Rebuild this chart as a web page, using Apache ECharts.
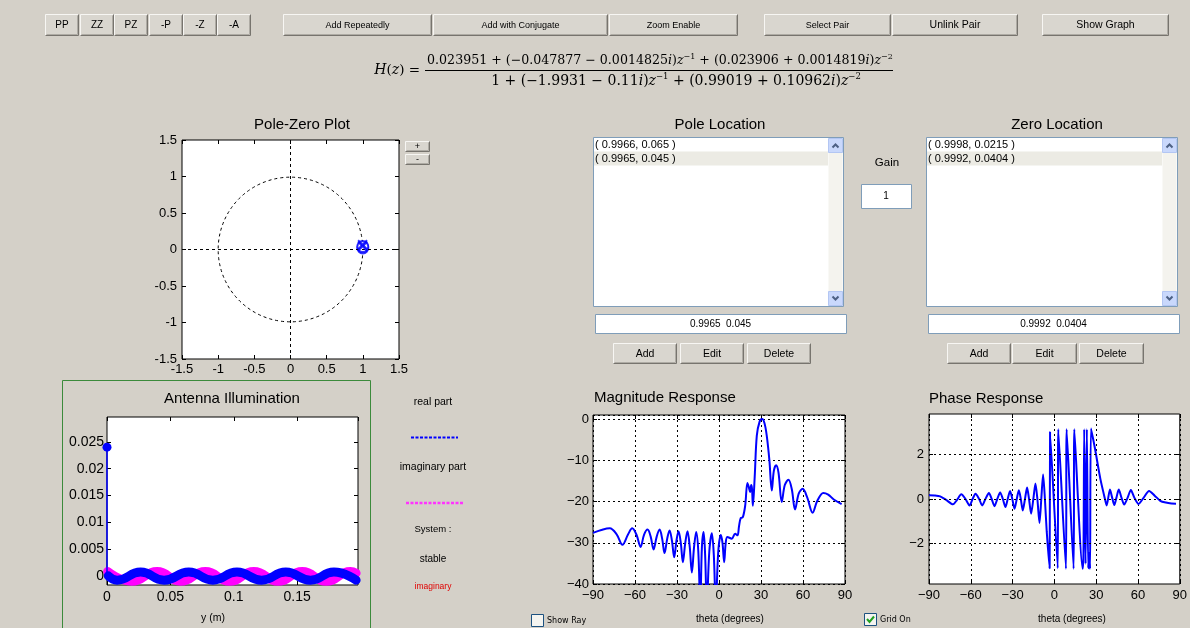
<!DOCTYPE html>
<html><head><meta charset="utf-8">
<script src="https://cdn.jsdelivr.net/npm/echarts@6.0.0/dist/echarts.min.js"></script>
<style>html,body{margin:0;padding:0;background:#d4d0c8;}#c{width:1190px;height:628px;}</style>
</head><body><div id="c"></div>
<script>
// ---------------- DATA ----------------
const topButtons = ['PP', 'ZZ', 'PZ', '-P', '-Z', '-A'];
const actionButtons = ['Add Repeatedly', 'Add with Conjugate', 'Zoom Enable', 'Select Pair', 'Unlink Pair', 'Show Graph'];
const editButtons = ['Add', 'Edit', 'Delete'];
const numeratorText = '0.023951 + (−0.047877 − 0.0014825{i|i}){i|z}{s|−1} + (0.023906 + 0.0014819{i|i}){i|z}{s|−2}';
const denominatorText = '1 + (−1.9931 − 0.11{j|i}){j|z}{t|−1} + (0.99019 + 0.10962{j|i}){j|z}{t|−2}';
const poles = [[0.9966, 0.065], [0.9965, 0.045]];
const zeros = [[0.9998, 0.0215], [0.9992, 0.0404]];
const selectedPole = [0.9965, 0.045];
const selectedZero = [0.9992, 0.0404];
const gain = 1;
const unitCircle = [[0, 0]];
const antennaYTicks = [0, 0.005, 0.01, 0.015, 0.02, 0.025];
const stemX = [0, 0];
const stemY = [0, 0.024];
const realX = [0.001, 0.008, 0.0265, 0.045, 0.0645, 0.0835, 0.1025, 0.122, 0.141, 0.1605, 0.179, 0.1965];
const realY = [0.0001, -0.0007, 0.0008, -0.0007, 0.0008, -0.0007, 0.0008, -0.0007, 0.0008, -0.0007, 0.0008, -0.0007];
const imagX = [0.0005, 0.0195, 0.0395, 0.058, 0.0776, 0.0967, 0.1158, 0.135, 0.154, 0.173, 0.192, 0.1965];
const imagY = [0.0009, -0.0009, 0.0009, -0.0009, 0.0009, -0.0009, 0.0009, -0.0009, 0.0009, -0.0009, 0.0009, 0.0006];
const magTheta = [-90, -84, -78, -73, -69, -65, -62, -59, -56, -53.5, -51, -48.8, -46.7, -44.5, -42.4, -40.6, -38.9, -37, -35.3, -33.6, -32, -30.4, -28.9, -27.3, -25.8, -24.1, -22.5, -20.9, -19.4, -17.8, -16.3, -14.8, -13.4, -12.2, -11, -9.9, -8.7, -6.9, -5.1, -3.7, -2.3, -0.5, 1.3, 2.5, 3.7, 4.8, 6, 9.1, 11.5, 13.2, 14.3, 15.5, 17, 18.7, 20.3, 21.3, 22.2, 23, 23.6, 24.2, 25.5, 27, 29, 30.8, 32.5, 34.1, 36, 37.7, 39.2, 40.8, 42.5, 44.8, 47, 49.6, 52, 54.3, 57, 59.8, 63, 66.9, 70, 74.5, 78, 82, 87.6];
const magDb = [-27.6, -26.9, -26.5, -28, -30.5, -28, -26.5, -28, -31, -28, -26.8, -28.5, -31.6, -28.5, -26.8, -29, -32.5, -29, -27, -29.5, -33.5, -29.5, -27.2, -30, -34.7, -30, -27.2, -31, -37.2, -31, -27.4, -32, -45, -31, -27.4, -33, -45, -32, -27.7, -33, -45, -32, -28.1, -30, -34.7, -30, -28.6, -29, -27.8, -28.2, -26, -24, -23.8, -21, -15.5, -16.5, -17.7, -16, -17, -21, -14, -4, -0.6, 0, -1, -4, -10, -17.3, -12.5, -11.2, -13, -20.1, -16, -14.7, -17, -21.9, -18, -16.9, -19, -22.7, -20, -17.9, -18.3, -19.5, -20.6];
const phaseTheta = [-90, -86, -82, -77.5, -72.8, -70, -66.8, -63.8, -60.9, -58.7, -56.6, -54, -51.8, -49.5, -47, -45, -43, -41, -38.9, -37, -35.1, -33.5, -31.8, -30.2, -28.6, -27, -25.5, -24.1, -22.7, -21.1, -19.6, -18.2, -16.7, -15.1, -13.6, -12.2, -10.7, -9.4, -8.1, -6.8, -5.5, -3.4, -3.1, 2.4, 2.8, 8.3, 8.8, 13.8, 14.3, 20.3, 20.9, 21.4, 22.4, 23.3, 24.3, 25.0, 25.6, 26.3, 29, 33, 36.3, 37.5, 39.9, 41.5, 43, 44.5, 46.2, 48.2, 50.1, 52.5, 54.9, 57.5, 60.4, 64, 68, 72, 76, 80, 84, 87.3];
const phaseRad = [0.17, 0.16, 0.12, -0.05, -0.24, -0.05, 0.21, 0, -0.29, 0, 0.24, 0, -0.29, 0, 0.27, 0, -0.32, 0, 0.29, 0, -0.36, 0, 0.36, 0, -0.44, 0, 0.39, 0, -0.51, 0, 0.51, 0, -0.66, 0, 0.69, 0, -1.07, 0, 1.1, 0, -1.45, -3.1, 3.0, -3.1, 3.12, -3.12, 3.12, -3.12, 3.12, -3.12, -2.4, 3.12, -2.9, 3.12, -3.1, -2.4, -3.12, 3.15, 2.3, 0.9, 0, -0.29, 0.42, 0.05, -0.27, 0.05, 0.42, 0.05, -0.25, 0.05, 0.4, 0.05, -0.22, 0.05, 0.36, 0.15, -0.08, -0.16, -0.2, -0.21];
const phaseYTicks = [-2, 0, 2];

// ---------------- HELPERS ----------------
const SANS = 'Liberation Sans';
const BG = '#d4d0c8';
const zip = (a, b) => a.map((v, i) => [v, b[i]]);
const minus = v => String(v).replace('-', '−');

function txt(x, y, text, o) {
  o = o || {};
  return { type: 'text', x: x, y: y, silent: true, z: 10,
    style: Object.assign({ text: text, fill: '#000', fontFamily: SANS, fontSize: 11,
      align: 'center', verticalAlign: 'middle', textAlign: 'center', textVerticalAlign: 'middle' }, o) };
}
function rect(x, y, w, h, fill, stroke, o) {
  return Object.assign({ type: 'rect', silent: true, z: 5, shape: { x: x, y: y, width: w, height: h },
    style: { fill: fill, stroke: stroke || null, lineWidth: 1 } }, o || {});
}
function pline(points, stroke, lw, o) {
  return Object.assign({ type: 'polyline', silent: true, z: 6, shape: { points: points },
    style: { fill: null, stroke: stroke, lineWidth: lw || 1 } }, o || {});
}
function button(x, y, w, h, label, fs) {
  return { type: 'group', x: x, y: y, children: [
    rect(0, 0, w, h, '#d9d6cf'),
    pline([[0.5, h - 0.5], [0.5, 0.5], [w - 0.5, 0.5]], '#f7f6f3'),
    pline([[0.5, h - 0.5], [w - 0.5, h - 0.5], [w - 0.5, 0.5]], '#77746e'),
    pline([[1.5, h - 1.5], [w - 1.5, h - 1.5], [w - 1.5, 1.5]], '#aeaba4'),
    txt(w / 2, h / 2 + 0.5, label, { fontSize: fs || 10 })
  ] };
}
function listbox(x, y, w, h, items, selIdx) {
  const ch = [rect(x + 0.5, y + 0.5, w, h, '#ffffff', '#7f9db9')];
  const sbx = x + w - 15;
  ch.push(rect(x + 1, y + 14 + 0.5, sbx - x - 1, 14, '#ecebe4'));
  items.forEach((it, i) => ch.push(txt(x + 2, y + 7.5 + i * 14.5, it, { align: 'left', textAlign: 'left', fontSize: 11 })));
  ch.push(rect(sbx + 0.5, y + 1.5, 14, h - 2, '#f4f3ee'));
  ch.push(rect(sbx + 0.5, y + 1.5, 14, 14, '#c9d8fc', '#b3c6f3'));
  ch.push(rect(sbx + 0.5, y + h - 14.5, 14, 14, '#c9d8fc', '#b3c6f3'));
  ch.push(pline([[sbx + 4.5, y + 10.5], [sbx + 7.5, y + 7.5], [sbx + 10.5, y + 10.5]], '#4d6185', 2));
  ch.push(pline([[sbx + 4.5, y + h - 9.5], [sbx + 7.5, y + h - 6.5], [sbx + 10.5, y + h - 9.5]], '#4d6185', 2));
  return ch;
}
function textbox(x, y, w, h, label) {
  return [rect(x + 0.5, y + 0.5, w, h, '#ffffff', '#7f9db9'), txt(x + w / 2, y + h / 2 + 0.5, label, { fontSize: 10 })];
}
function checkbox(x, y, label, checked) {
  const ch = [rect(x + 0.5, y + 0.5, 12, 12, '#f4f4f0', '#1c5180'), txt(x + 16, y + 7, label, { align: 'left', textAlign: 'left', fontSize: 8, fontFamily: 'DejaVu Sans' })];
  if (checked) ch.push(pline([[x + 3, y + 6], [x + 5.5, y + 9], [x + 10, y + 3.5]], '#21a121', 2));
  return ch;
}

// ---------------- GRAPHIC UI ----------------
const g = [];
const topX = [[45, 34], [80, 34], [114, 34], [149, 34], [183, 34], [217, 34]];
topButtons.forEach((b, i) => g.push(button(topX[i][0], 14, topX[i][1], 22, b, 10)));
const actX = [[283, 149, 9], [433, 175, 9], [609, 129, 9], [764, 127, 9], [892, 126, 10.5], [1042, 127, 10.5]];
actionButtons.forEach((b, i) => g.push(button(actX[i][0], 14, actX[i][1], 22, b, actX[i][2])));

// formula
const serif = 'DejaVu Serif';
const FN = 12.6, FD = 14;
const rich = {
  i: { fontStyle: 'italic', fontFamily: serif, fontSize: FN }, s: { fontFamily: serif, fontSize: 8, verticalAlign: 'top', lineHeight: 10 },
  j: { fontStyle: 'italic', fontFamily: serif, fontSize: FD }, t: { fontFamily: serif, fontSize: 8.5, verticalAlign: 'top', lineHeight: 10 }
};
g.push(txt(660, 61, numeratorText, { fontFamily: serif, fontSize: FN, rich: rich, lineHeight: 17 }));
g.push(txt(676, 81, denominatorText, { fontFamily: serif, fontSize: FD, rich: rich, lineHeight: 18 }));
g.push(pline([[425, 70.5], [893, 70.5]], '#000', 1));
g.push(txt(420, 70, '{j|H}({j|z}) =', { align: 'right', textAlign: 'right', fontFamily: serif, fontSize: 13.5, rich: rich }));

// titles
const titleFs = 15;
g.push(txt(302, 125, 'Pole-Zero Plot', { fontSize: titleFs }));
g.push(txt(720, 125, 'Pole Location', { fontSize: titleFs }));
g.push(txt(1057, 125, 'Zero Location', { fontSize: titleFs }));
g.push(txt(232, 399, 'Antenna Illumination', { fontSize: titleFs }));
g.push(txt(594, 398, 'Magnitude Response', { fontSize: titleFs, align: 'left', textAlign: 'left' }));
g.push(txt(929, 399, 'Phase Response', { fontSize: titleFs, align: 'left', textAlign: 'left' }));

// zoom +/- buttons
g.push(button(405, 141, 25, 11, '+', 9));
g.push(button(405, 154, 25, 11, '-', 9));

// pole list
g.push(...listbox(593, 137, 250, 169, poles.map(p => '( ' + p[0] + ', ' + p[1] + ' )'), 1));
g.push(...textbox(595, 314, 251, 19, selectedPole[0] + '  ' + selectedPole[1]));
[[613, 64], [680, 64], [747, 64]].forEach((b, i) => g.push(button(b[0], 343, b[1], 21, editButtons[i], 10.5)));
// gain
g.push(txt(887, 163, 'Gain', { fontSize: 11.5 }));
g.push(...textbox(861, 184, 50, 24, String(gain)));
// zero list
g.push(...listbox(926, 137, 251, 169, zeros.map(p => '( ' + p[0] + ', ' + p[1] + ' )'), 1));
g.push(...textbox(928, 314, 251, 19, selectedZero[0] + '  ' + selectedZero[1]));
[[947, 64], [1012, 65], [1079, 65]].forEach((b, i) => g.push(button(b[0], 343, b[1], 21, editButtons[i], 10.5)));

// antenna panel frame
g.push(rect(62.5, 380.5, 308, 260, null, '#3b8a3b', { z: 1 }));
g.push(txt(213, 618, 'y (m)', { fontSize: 10.5 }));
// legend-like labels
g.push(txt(433, 402, 'real part', { fontSize: 10.5 }));
g.push(pline([[411, 437.5], [458, 437.5]], '#0000ff', 2, { style: { fill: null, stroke: '#0000ff', lineWidth: 2, lineDash: [3, 1.5] } }));
g.push(txt(433, 467, 'imaginary part', { fontSize: 10.5 }));
g.push(pline([[406, 503], [463, 503]], '#ff33ff', 2, { style: { fill: null, stroke: '#ff33ff', lineWidth: 2.5, lineDash: [3, 1.5] } }));
g.push(txt(433, 529, 'System :', { fontSize: 9.5 }));
g.push(txt(433, 559, 'stable', { fontSize: 10 }));
g.push(txt(433, 587, 'imaginary', { fontSize: 8.5, fill: '#e00000' }));

// magnitude/phase captions & checkboxes
g.push(txt(730, 619, 'theta (degrees)', { fontSize: 10 }));
g.push(txt(1072, 619, 'theta (degrees)', { fontSize: 10 }));
g.push(...checkbox(531, 614, 'Show Ray', false));
g.push(...checkbox(864, 613, 'Grid On', true));

// ---------------- AXES ----------------
const lab = { color: '#000', fontFamily: SANS, fontSize: 13 };
const tick = { show: true, inside: true, length: 4, lineStyle: { color: '#000', width: 1 } };
const noLine = { show: false, onZero: false };
const gridDash = { show: true, lineStyle: { color: '#000', width: 1, type: [2, 3] } };

const xBase = [
  { min: -1.5, max: 1.5, interval: 0.5, axisLabel: Object.assign({}, lab, { margin: 4 }) },
  { min: 0, max: 0.198, interval: 0.05, axisLabel: Object.assign({}, lab, { fontSize: 14, margin: 5, showMaxLabel: false, formatter: v => String(+v.toFixed(3)) }) },
  { min: -90, max: 90, interval: 30, axisLabel: Object.assign({}, lab, { fontSize: 13, margin: 5, formatter: minus }), splitLine: gridDash },
  { min: -90, max: 90, interval: 30, axisLabel: Object.assign({}, lab, { fontSize: 13, margin: 5, formatter: minus }), splitLine: gridDash }
];
const yBase = [
  { min: -1.5, max: 1.5, interval: 0.5, axisLabel: Object.assign({}, lab, { margin: 5 }) },
  { min: -0.0016, max: 0.0296, axisTick: Object.assign({}, tick, { customValues: antennaYTicks }),
    axisLabel: Object.assign({}, lab, { fontSize: 14, margin: 3, customValues: antennaYTicks, formatter: v => String(+(+v).toFixed(3)) }) },
  { min: -40, max: 1, interval: 10, axisLabel: Object.assign({}, lab, { fontSize: 13, margin: 4, showMaxLabel: false, formatter: minus }), splitLine: gridDash },
  { min: -3.8, max: 3.8, axisTick: Object.assign({}, tick, { customValues: phaseYTicks }),
    axisLabel: Object.assign({}, lab, { fontSize: 13, margin: 5, customValues: phaseYTicks, formatter: minus }) }
];
const xAxis = [], yAxis = [];
xBase.forEach((b, i) => xAxis.push(Object.assign({ type: 'value', gridIndex: i, position: 'bottom', axisLine: noLine, axisTick: tick, splitLine: { show: false } }, b)));
yBase.forEach((b, i) => yAxis.push(Object.assign({ type: 'value', gridIndex: i, position: 'left', axisLine: noLine, axisTick: tick, splitLine: { show: false } }, b)));
xBase.forEach((b, i) => xAxis.push(Object.assign({ type: 'value', gridIndex: i, position: 'top', axisLine: noLine, axisTick: tick, splitLine: { show: false } }, b, { axisLabel: { show: false }, splitLine: { show: false } })));
yBase.forEach((b, i) => yAxis.push(Object.assign({ type: 'value', gridIndex: i, position: 'right', axisLine: noLine, axisTick: tick, splitLine: { show: false } }, b, { axisLabel: { show: false }, splitLine: { show: false } })));

const gridStyle = { show: true, backgroundColor: '#ffffff', borderColor: '#000', borderWidth: 1, containLabel: false };
const grid = [
  Object.assign({ left: 182, top: 140, width: 217, height: 219 }, gridStyle),
  Object.assign({ left: 107, top: 417, width: 251, height: 168 }, gridStyle),
  Object.assign({ left: 593, top: 415, width: 252, height: 169 }, gridStyle),
  Object.assign({ left: 929, top: 414, width: 252, height: 170 }, gridStyle)
];

const dashedRef = { silent: true, symbol: ['none', 'none'], label: { show: false }, lineStyle: { color: '#000', width: 1, type: [3, 3] }, emphasis: { disabled: true } };

const series = [
  { type: 'custom', xAxisIndex: 0, yAxisIndex: 0, data: unitCircle, silent: true, z: 2,
    renderItem: (params, api) => {
      const c = api.coord([api.value(0), api.value(1)]);
      const e = api.coord([api.value(0) + 1, api.value(1)]);
      return { type: 'circle', shape: { cx: c[0], cy: c[1], r: e[0] - c[0] }, style: { fill: 'none', stroke: '#000', lineWidth: 1, lineDash: [3, 3] } };
    } },
  { type: 'scatter', xAxisIndex: 0, yAxisIndex: 0, data: zeros, symbol: 'emptyCircle', symbolSize: 11, z: 4,
    itemStyle: { color: '#0000ff', borderColor: '#0000ff', borderWidth: 3.5 },
    markLine: Object.assign({ data: [{ xAxis: 0 }, { yAxis: 0 }] }, dashedRef) },
  { type: 'scatter', xAxisIndex: 0, yAxisIndex: 0, data: poles, symbol: 'path://M0,0L10,10M10,0L0,10', symbolSize: 9, z: 5,
    itemStyle: { color: '#0000ff', borderColor: '#0000ff', borderWidth: 2 } },
  { type: 'line', xAxisIndex: 1, yAxisIndex: 1, data: zip(imagX, imagY), smooth: 0.5, showSymbol: false, z: 3,
    lineStyle: { color: '#ff00ff', width: 9, cap: 'round', join: 'round' } },
  { type: 'line', xAxisIndex: 1, yAxisIndex: 1, data: zip(realX, realY), smooth: 0.5, showSymbol: false, z: 4,
    lineStyle: { color: '#0000ff', width: 9, cap: 'round', join: 'round' } },
  { type: 'line', xAxisIndex: 1, yAxisIndex: 1, z: 5,
    data: zip(stemX, stemY).map((p, i) => ({ value: p, symbolSize: i === 0 ? 0 : 9 })),
    symbol: 'circle', showSymbol: true, clip: false,
    itemStyle: { color: '#0000ff' }, lineStyle: { color: '#0000ff', width: 1.5 } },
  { type: 'line', xAxisIndex: 2, yAxisIndex: 2, data: zip(magTheta, magDb), smooth: 0.35, showSymbol: false, z: 4,
    lineStyle: { color: '#0000ff', width: 2 } },
  { type: 'scatter', xAxisIndex: 3, yAxisIndex: 3, data: [], z: 1,
    markLine: Object.assign({ data: phaseYTicks.map(v => ({ yAxis: v })) }, dashedRef, { lineStyle: { color: '#000', width: 1, type: [2, 3] } }) },
  { type: 'line', xAxisIndex: 3, yAxisIndex: 3, data: zip(phaseTheta, phaseRad), smooth: 0.25, showSymbol: false, z: 4,
    lineStyle: { color: '#0000ff', width: 2 } }
];

const chart = echarts.init(document.getElementById('c'), null, { renderer: 'canvas' });
chart.setOption({
  backgroundColor: BG,
  animation: false,
  grid: grid,
  xAxis: xAxis,
  yAxis: yAxis,
  series: series,
  graphic: { elements: g }
});
</script></body></html>
